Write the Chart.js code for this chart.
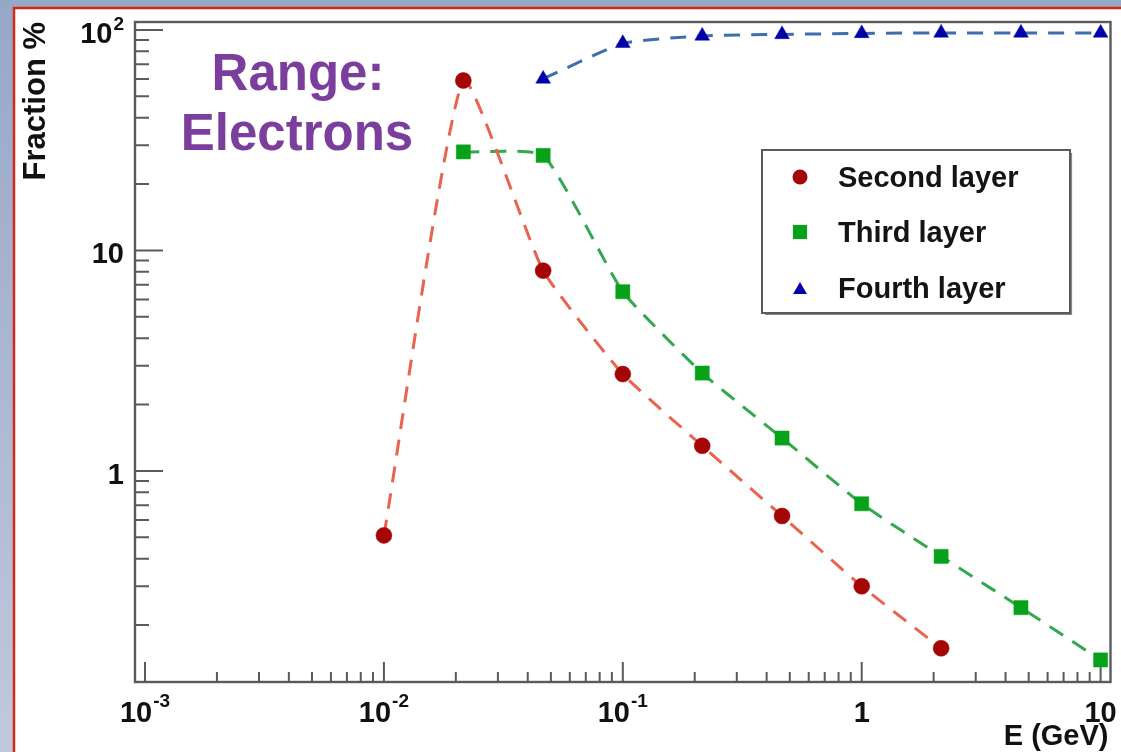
<!DOCTYPE html>
<html><head><meta charset="utf-8">
<script src="https://cdn.jsdelivr.net/npm/chart.js@4.4.1/dist/chart.umd.min.js"></script>
<style>
html,body{margin:0;padding:0;background:#9aa9c9;overflow:hidden;}
#wrap{width:1121px;height:752px;position:relative;}
canvas{display:block;}
</style>
</head><body><div id="wrap"><canvas id="c"></canvas></div>
<script>
// ---- data ----
const energies = [0.01, 0.0215, 0.0464, 0.1, 0.215, 0.464, 1, 2.15, 4.64, 10];
const secondLayer = [0.51, 59, 8.1, 2.75, 1.30, 0.625, 0.30, 0.157, null, null];
const thirdLayer  = [null, 28.0, 27.0, 6.5, 2.78, 1.41, 0.71, 0.41, 0.24, 0.139];
const fourthLayer = [null, null, 60, 87, 94, 95.5, 96.5, 97, 97, 97];
const seriesNames = ['Second layer', 'Third layer', 'Fourth layer'];
const xTickValues = [0.001, 0.01, 0.1, 1, 10];
const xTickLabels = ['10^-3', '10^-2', '10^-1', '1', '10'];
const yTickValues = [1, 10, 100];
const yTickLabels = ['1', '10', '10^2'];
const xRange = [9.08e-4, 11.0];
const yRange = [0.1104, 108.7];
const xTitle = 'E (GeV)';
const yTitle = 'Fraction %';
const noteLines = ['Range:', 'Electrons'];

function pts(arr){ return energies.map((e,i)=>({x:e,y:arr[i]})).filter(p=>p.y!=null); }
function minorTicks(lo, hi){
  const out=[];
  for(let d=-4; d<=2; d++){ for(let m=2;m<=9;m++){ const v=m*Math.pow(10,d); if(v>lo && v<hi) out.push(v);} }
  return out;
}

const styles = [
  {line:'#ea634f', mark:'#a40606', shape:'circle', r:8},
  {line:'#33a84e', mark:'#07a21a', shape:'rect', r:10},
  {line:'#3d6fae', mark:'#0000a8', shape:'triangle', r:8.5}
];
const series = [secondLayer, thirdLayer, fourthLayer];

function drawMarker(ctx, shape, x, y, r, color){
  ctx.save(); ctx.fillStyle=color; ctx.beginPath();
  if(shape==='circle'){ ctx.arc(x,y,r,0,Math.PI*2); }
  else if(shape==='rect'){ const s=r*Math.SQRT1_2; ctx.rect(x-s,y-s,2*s,2*s); }
  else { const h=r*Math.sqrt(3)/2; ctx.moveTo(x,y-r); ctx.lineTo(x+h,y+r/2); ctx.lineTo(x-h,y+r/2); ctx.closePath(); }
  ctx.fill(); ctx.restore();
}
function drawSupLabel(ctx, text, x, y, align, baseSize, supSize, supRise){
  const parts=text.split('^'); const base=parts[0], exp=parts[1]||'';
  ctx.font='bold '+baseSize+'px "Liberation Sans", Arial, sans-serif';
  const wb=ctx.measureText(base).width;
  ctx.font='bold '+supSize+'px "Liberation Sans", Arial, sans-serif';
  const we=exp?ctx.measureText(exp).width+1:0;
  const tot=wb+we;
  let sx = align==='center' ? x-tot/2 : (align==='right' ? x-tot : x);
  ctx.textAlign='left'; ctx.textBaseline='alphabetic';
  ctx.font='bold '+baseSize+'px "Liberation Sans", Arial, sans-serif';
  ctx.fillText(base, sx, y);
  if(exp){ ctx.font='bold '+supSize+'px "Liberation Sans", Arial, sans-serif'; ctx.fillText(exp, sx+wb+1, y-supRise); }
}

const deco = {
  id:'deco',
  beforeDraw(chart){
    const ctx=chart.ctx, W=chart.width, H=chart.height;
    ctx.save();
    const g=ctx.createLinearGradient(0,0,0,H);
    g.addColorStop(0,'#97a7c8'); g.addColorStop(1,'#c0c9dc');
    ctx.fillStyle=g; ctx.fillRect(0,0,W,H);
    ctx.fillStyle='#ffffff'; ctx.fillRect(14,8,W-14,H-8);
    ctx.strokeStyle='#d32a18'; ctx.lineWidth=2.5;
    ctx.beginPath(); ctx.moveTo(14,H+2); ctx.lineTo(14,8); ctx.lineTo(W+2,8); ctx.stroke();
    ctx.restore();
  },
  beforeDatasetsDraw(chart){
    const ctx=chart.ctx, ca=chart.chartArea, xs=chart.scales.x, ys=chart.scales.y;
    ctx.save();
    ctx.strokeStyle='#5a5a5a'; ctx.lineWidth=2.4;
    ctx.strokeRect(ca.left, ca.top, ca.right-ca.left, ca.bottom-ca.top);
    ctx.lineWidth=2;
    ctx.beginPath();
    xTickValues.forEach(v=>{ const p=xs.getPixelForValue(v); ctx.moveTo(p,ca.bottom); ctx.lineTo(p,ca.bottom-20); });
    minorTicks(xRange[0],xRange[1]).forEach(v=>{ const p=xs.getPixelForValue(v); ctx.moveTo(p,ca.bottom); ctx.lineTo(p,ca.bottom-10); });
    yTickValues.forEach(v=>{ const p=ys.getPixelForValue(v); ctx.moveTo(ca.left,p); ctx.lineTo(ca.left+28,p); });
    minorTicks(yRange[0],yRange[1]).forEach(v=>{ const p=ys.getPixelForValue(v); ctx.moveTo(ca.left,p); ctx.lineTo(ca.left+14,p); });
    ctx.stroke();
    ctx.restore();
  },
  afterDraw(chart){
    const ctx=chart.ctx, ca=chart.chartArea, xs=chart.scales.x, ys=chart.scales.y;
    ctx.save();
    ctx.fillStyle='#111';
    xTickValues.forEach((v,i)=>{ drawSupLabel(ctx, xTickLabels[i], xs.getPixelForValue(v), ca.bottom+40, 'center', 29, 19, 15); });
    yTickValues.forEach((v,i)=>{ drawSupLabel(ctx, yTickLabels[i], ca.left-11, ys.getPixelForValue(v)+13, 'right', 29, 19, 13); });
    // axis titles
    ctx.font='bold 29px "Liberation Sans", Arial, sans-serif';
    ctx.textAlign='right'; ctx.textBaseline='alphabetic';
    ctx.fillText(xTitle, ca.right-2, 745);
    ctx.save(); ctx.translate(45, ca.top); ctx.rotate(-Math.PI/2);
    ctx.font='bold 31px "Liberation Sans", Arial, sans-serif';
    ctx.textAlign='right'; ctx.fillText(yTitle, 0, 0); ctx.restore();
    // annotation
    ctx.fillStyle='#7b3e9d'; ctx.font='bold 51px "Liberation Sans", Arial, sans-serif';
    ctx.textAlign='center';
    ctx.fillText(noteLines[0], 298, 90);
    ctx.fillText(noteLines[1], 297, 150);
    // legend
    const lx=762, ly=150, lw=308, lh=163;
    ctx.fillStyle='#ffffff'; ctx.fillRect(lx,ly,lw,lh);
    ctx.strokeStyle='#8a8a8a'; ctx.lineWidth=1.2; ctx.beginPath(); ctx.moveTo(lx+3,ly+lh+1.5); ctx.lineTo(lx+lw+1.5,ly+lh+1.5); ctx.lineTo(lx+lw+1.5,ly+3); ctx.stroke();
    ctx.strokeStyle='#5a5a5a'; ctx.lineWidth=2; ctx.strokeRect(lx,ly,lw,lh);
    const rows=[177,232,288], lr=[7.5,10,8];
    seriesNames.forEach((n,i)=>{
      drawMarker(ctx, styles[i].shape, 800, rows[i]+(styles[i].shape==='triangle'?2:0), lr[i], styles[i].mark);
      ctx.fillStyle='#141414'; ctx.font='bold 29px "Liberation Sans", Arial, sans-serif';
      ctx.textAlign='left'; ctx.fillText(n, 838, rows[i]+10);
    });
    ctx.restore();
  }
};

const datasets = series.map((arr,i)=>({
  label: seriesNames[i],
  data: pts(arr),
  borderColor: styles[i].line,
  backgroundColor: styles[i].mark,
  borderWidth: 3,
  borderDash: [16, 11],
  pointStyle: styles[i].shape,
  pointRadius: styles[i].r,
  pointBackgroundColor: styles[i].mark,
  pointBorderColor: styles[i].mark,
  pointBorderWidth: 0.5,
  tension: 0.15,
  fill: false,
  clip: false
}));

new Chart(document.getElementById('c'), {
  type: 'line',
  data: { datasets },
  plugins: [deco],
  options: {
    responsive: true, maintainAspectRatio: false, animation: false, events: [],
    layout: { padding: { top: 22, right: 6, left: 0, bottom: 0 } },
    plugins: { legend: { display: false }, tooltip: { enabled: false } },
    scales: {
      x: { type: 'logarithmic', min: xRange[0], max: xRange[1], bounds: 'data',
           grid: { display: false }, border: { display: false }, ticks: { display: false },
           afterDataLimits: s => { s.min = xRange[0]; s.max = xRange[1]; },
           afterFit: s => { s.height = 70; } },
      y: { type: 'logarithmic', min: yRange[0], max: yRange[1], bounds: 'data',
           grid: { display: false }, border: { display: false }, ticks: { display: false },
           afterDataLimits: s => { s.min = yRange[0]; s.max = yRange[1]; },
           afterFit: s => { s.width = 135; } }
    }
  }
});
</script>
</body></html>
